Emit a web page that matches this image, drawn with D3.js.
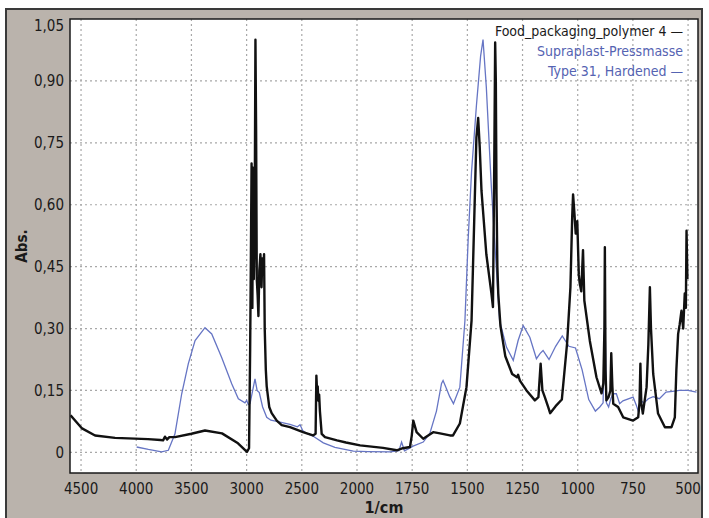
<!DOCTYPE html>
<html>
<head>
<meta charset="utf-8">
<script src="https://cdn.jsdelivr.net/npm/d3@7"></script>
<style>
  body { margin: 0; background: #fff; }
  svg { display: block; font-family: "Liberation Sans Narrow", "DejaVu Sans Condensed", sans-serif; }
</style>
</head>
<body>
<div id="chart"></div>
<script>
// x ticks (1/cm), y ticks (Abs.)
const xTicks = [4500, 4000, 3500, 3000, 2500, 2000, 1750, 1500, 1250, 1000, 750, 500];
const yTicks = [0, 0.15, 0.30, 0.45, 0.60, 0.75, 0.90, 1.05];

const seriesNames = ["Food_packaging_polymer 4 \u2014", "Supraplast-Pressmasse", "Type 31, Hardened \u2014"];

// Food_packaging_polymer 4 (black)
const foodWn = [4595, 4491, 4373, 4192, 3893, 3780, 3757, 3740, 3720, 3700, 3649, 3500, 3377, 3223, 3078, 2997,
  2978, 2968, 2962, 2955, 2948, 2942, 2935, 2928, 2920, 2914, 2908, 2900, 2893, 2885, 2875, 2865, 2858, 2850, 2842, 2836, 2826, 2818, 2795, 2773,
  2727, 2682, 2607, 2489, 2399, 2375, 2368, 2362, 2356, 2350, 2343, 2336, 2320, 2290, 2181, 2100, 1986, 1882, 1820, 1792, 1760,
  1752, 1745, 1730, 1700, 1655, 1624, 1579, 1565, 1534, 1504, 1481, 1469, 1459, 1451, 1444, 1436, 1414, 1391, 1384,
  1378, 1374, 1371, 1368, 1364, 1360, 1350, 1328, 1297, 1275, 1270, 1262, 1232, 1194, 1178, 1168, 1160, 1149, 1134, 1125,
  1100, 1072, 1048, 1033, 1025, 1021, 1015, 1009, 1002, 995, 991, 984, 976, 970, 945, 915, 892, 884, 879, 877, 874, 870,
  860, 852, 848, 843, 839, 817, 794, 749, 726, 720, 716, 712, 705, 688, 680, 673, 668, 658, 636, 605, 575, 560,
  553, 545, 538, 530, 522, 515, 510, 507, 503];
const foodAbs = [0.090, 0.058, 0.041, 0.035, 0.032, 0.030, 0.029, 0.038, 0.031, 0.037, 0.037, 0.045, 0.053, 0.046, 0.022, 0.001,
  0.010, 0.250, 0.450, 0.700, 0.350, 0.690, 0.420, 0.500, 1.000, 0.780, 0.420, 0.380, 0.330, 0.440, 0.480, 0.400, 0.470, 0.430, 0.480, 0.300, 0.200, 0.160, 0.110, 0.095,
  0.077, 0.066, 0.061, 0.049, 0.041, 0.045, 0.186, 0.150, 0.160, 0.125, 0.140, 0.100, 0.045, 0.037, 0.029, 0.024, 0.017, 0.011, 0.005, 0.010, 0.013,
  0.040, 0.077, 0.049, 0.033, 0.049, 0.046, 0.041, 0.041, 0.070, 0.158, 0.319, 0.560, 0.763, 0.810, 0.740, 0.634, 0.480, 0.385, 0.352,
  0.706, 0.993, 0.900, 0.627, 0.450, 0.385, 0.306, 0.233, 0.190, 0.182, 0.188, 0.174, 0.150, 0.126, 0.134, 0.215, 0.150, 0.134, 0.110, 0.095,
  0.112, 0.128, 0.265, 0.400, 0.570, 0.625, 0.580, 0.530, 0.560, 0.430, 0.410, 0.390, 0.490, 0.368, 0.270, 0.182, 0.143, 0.167, 0.300, 0.497, 0.200, 0.126,
  0.134, 0.150, 0.240, 0.160, 0.118, 0.110, 0.085, 0.077, 0.085, 0.120, 0.215, 0.120, 0.094, 0.158, 0.260, 0.400, 0.300, 0.190, 0.094, 0.061, 0.061, 0.085,
  0.200, 0.287, 0.310, 0.343, 0.300, 0.385, 0.350, 0.537, 0.420];

// Supraplast-Pressmasse Type 31, Hardened (blue)
const supraWn = [3996, 3890, 3770, 3709, 3649, 3588, 3528, 3467, 3377, 3316, 3226, 3135, 3075, 3015, 3000, 2985, 2969,
  2945, 2924, 2905, 2885, 2855, 2818, 2780, 2727, 2607, 2540, 2516, 2490, 2450, 2396, 2305, 2200, 2033, 1950, 1851,
  1810, 1798, 1785, 1770, 1746, 1700, 1670, 1640, 1617, 1610, 1595, 1580, 1563, 1534, 1511, 1496, 1481, 1459, 1440, 1429,
  1414, 1391, 1368, 1354, 1323, 1292, 1270, 1247, 1217, 1187, 1170, 1157, 1140, 1130, 1100, 1070, 1040, 1010, 980, 950,
  920, 900, 885, 877, 870, 860, 850, 840, 825, 810, 795, 749, 735, 726, 715, 700, 680, 658, 630, 600, 570, 540, 500, 462];
const supraAbs = [0.013, 0.007, 0.001, 0.005, 0.045, 0.142, 0.215, 0.271, 0.302, 0.287, 0.230, 0.166, 0.130, 0.120, 0.126, 0.116, 0.118,
  0.150, 0.178, 0.150, 0.145, 0.110, 0.085, 0.078, 0.075, 0.068, 0.062, 0.067, 0.052, 0.045, 0.039, 0.023, 0.012, 0.003, 0.002, 0.001,
  0.004, 0.025, 0.004, 0.008, 0.015, 0.025, 0.046, 0.100, 0.167, 0.174, 0.155, 0.135, 0.118, 0.158, 0.319, 0.520, 0.680, 0.840, 0.960, 1.000,
  0.884, 0.640, 0.440, 0.320, 0.255, 0.223, 0.271, 0.307, 0.279, 0.227, 0.240, 0.247, 0.233, 0.225, 0.257, 0.282, 0.257, 0.253, 0.200, 0.128,
  0.100, 0.110, 0.120, 0.350, 0.120, 0.110, 0.130, 0.142, 0.142, 0.118, 0.125, 0.134, 0.115, 0.100, 0.126, 0.120, 0.130, 0.135, 0.130, 0.146, 0.148, 0.150, 0.150, 0.146];

const W = 709, H = 518;
const plot = { left: 70, top: 19, right: 698, bottom: 473 };

const svg = d3.select("#chart").append("svg")
  .attr("width", W).attr("height", H);

// outer grey frame
svg.append("rect")
  .attr("x", 6).attr("y", 9).attr("width", 696).attr("height", 520)
  .attr("fill", "#bab3ac").attr("stroke", "#3a3a3a").attr("stroke-width", 2);

svg.append("rect")
  .attr("x", plot.left).attr("y", plot.top)
  .attr("width", plot.right - plot.left).attr("height", plot.bottom - plot.top)
  .attr("fill", "#fff");

const pw = plot.right - plot.left, ph = plot.bottom - plot.top;

// axis is expanded below 2000 1/cm (piecewise)
const x = d3.scaleLinear().domain([4600, 2000, 455]).range([0, 287, pw]);
const y = d3.scaleLinear().domain([-0.05, 1.05]).range([ph, 0]);

const g = svg.append("g").attr("transform", `translate(${plot.left},${plot.top})`);

// GRID
g.append("g").selectAll("line").data(xTicks).join("line")
  .attr("x1", d => x(d)).attr("x2", d => x(d))
  .attr("y1", 0).attr("y2", ph)
  .attr("stroke", "#a8a8a8").attr("stroke-width", 1.2).attr("stroke-dasharray", "2,3");
g.append("g").selectAll("line").data(yTicks.slice(0, -1)).join("line")
  .attr("x1", 0).attr("x2", pw)
  .attr("y1", d => y(d)).attr("y2", d => y(d))
  .attr("stroke", "#a8a8a8").attr("stroke-width", 1.2).attr("stroke-dasharray", "2,3");

// LINES
g.append("clipPath").attr("id", "clip")
  .append("rect").attr("width", pw).attr("height", ph);

const line = d3.line().x(d => x(d[0])).y(d => y(d[1]));

g.append("path")
  .datum(d3.zip(supraWn, supraAbs))
  .attr("clip-path", "url(#clip)")
  .attr("fill", "none").attr("stroke", "#6675c4").attr("stroke-width", 1.3)
  .attr("d", line);

g.append("path")
  .datum(d3.zip(foodWn, foodAbs))
  .attr("clip-path", "url(#clip)")
  .attr("fill", "none").attr("stroke", "#111").attr("stroke-width", 2.4)
  .attr("stroke-linejoin", "round")
  .attr("d", line);

// plot border
g.append("rect").attr("width", pw).attr("height", ph)
  .attr("fill", "none").attr("stroke", "#1a1a1a").attr("stroke-width", 1.5);

// TICK LABELS
const fmt = d => d === 0 ? "0" : d3.format(".2f")(d).replace(".", ",");
g.append("g").selectAll("text").data(yTicks).join("text")
  .attr("x", -6)
  .attr("y", d => d === 1.05 ? y(d) + 7 : y(d))
  .attr("dy", "0.35em")
  .attr("text-anchor", "end")
  .attr("font-size", "15px").attr("fill", "#1a1a1a")
  .text(fmt);

g.append("g").selectAll("text").data(xTicks).join("text")
  .attr("x", d => x(d))
  .attr("y", ph + 16)
  .attr("dy", "0.35em")
  .attr("text-anchor", "middle")
  .attr("font-size", "15px").attr("fill", "#1a1a1a")
  .text(d => d);

// AXIS TITLES
svg.append("text")
  .attr("transform", `translate(27,${(plot.top + plot.bottom) / 2}) rotate(-90)`)
  .attr("text-anchor", "middle")
  .attr("font-size", "15px").attr("font-weight", "bold").attr("fill", "#1a1a1a")
  .text("Abs.");

svg.append("text")
  .attr("x", 384).attr("y", 513)
  .attr("text-anchor", "middle")
  .attr("font-size", "16px").attr("font-weight", "bold").attr("fill", "#1a1a1a")
  .text("1/cm");

// LEGEND
const legendColors = ["#1a1a1a", "#5563b2", "#5563b2"];
g.append("g").selectAll("text").data(seriesNames).join("text")
  .attr("x", 683 - plot.left)
  .attr("y", (d, i) => 12 + i * 20)
  .attr("dy", "0.35em")
  .attr("text-anchor", "end")
  .attr("font-size", "14px")
  .attr("fill", (d, i) => legendColors[i])
  .text(d => d);
</script>
</body>
</html>
